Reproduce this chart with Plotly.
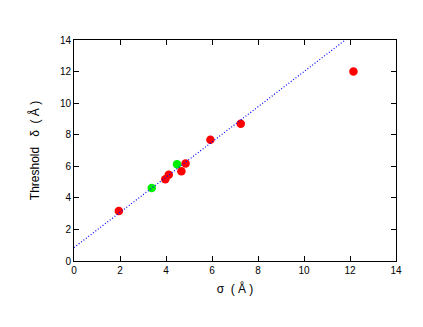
import plotly.graph_objects as go

# data
red_x = [1.95, 3.97, 4.12, 4.67, 4.85, 5.93, 7.25, 12.15]
red_y = [3.17, 5.18, 5.46, 5.68, 6.18, 7.68, 8.70, 12.0]
green_x = [3.38, 4.48]
green_y = [4.63, 6.13]
fit_x = [0.0, 14.0]
fit_y = [0.85, 16.46]
ticks = [0, 2, 4, 6, 8, 10, 12, 14]

fig = go.Figure()
fig.add_trace(go.Scatter(x=red_x, y=red_y, mode="markers",
                         marker=dict(color="#ff0000", size=8.5, line=dict(width=0)),
                         cliponaxis=False, showlegend=False))
fig.add_trace(go.Scatter(x=green_x, y=green_y, mode="markers",
                         marker=dict(color="#00ee00", size=8.5, line=dict(width=0)),
                         showlegend=False))
fig.add_trace(go.Scatter(x=fit_x, y=fit_y, mode="lines",
                         line=dict(color="#0000ff", width=1.2, dash="1px,2px"),
                         showlegend=False))

axis_common = dict(range=[0, 14], tickvals=ticks, ticks="inside", ticklen=5,
                   tickcolor="black", showline=True, linecolor="black", linewidth=1,
                   mirror="ticks", showgrid=False, zeroline=False, automargin=False,
                   tickfont=dict(family="Liberation Sans, Arial", size=10, color="black"))

title_font = dict(family="Liberation Sans, Arial", size=12, color="black")

fig.update_layout(
    width=415, height=319,
    margin=dict(l=66, r=27, t=32, b=66),
    paper_bgcolor="white", plot_bgcolor="white",
    xaxis=dict(**axis_common,
               title=dict(text="σ  ( Å )", font=title_font, standoff=9)),
    yaxis=dict(**axis_common,
               title=dict(text="Threshold   δ  ( Å )", font=title_font, standoff=17)),
)

fig.write_html("out.html")
